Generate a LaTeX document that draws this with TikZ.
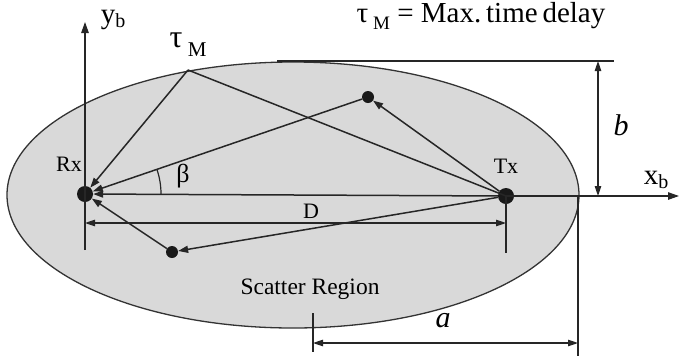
\documentclass[tikz,border=0pt]{standalone}
\usepackage{fontspec}
\setmainfont{Liberation Serif}
\usetikzlibrary{arrows.meta,calc}
\begin{document}
\begin{tikzpicture}[x=1pt,y=-1pt,
  ln/.style={draw=black!85,line width=1.5pt},
  arr/.style={ln,-{Triangle[length=10pt,width=7pt]}},
  dim/.style={ln,line width=1.1pt,{Triangle[length=10pt,width=6.5pt]}-{Triangle[length=10pt,width=6.5pt]}},
  bigdot/.style={circle,fill=black!90,inner sep=0pt,minimum size=16pt},
  smalldot/.style={circle,fill=black!90,inner sep=0pt,minimum size=12pt},
  lbl/.style={inner sep=0pt,font=\fontsize{22}{22}\selectfont},
  ilbl/.style={inner sep=0pt,font=\fontsize{30}{30}\selectfont\itshape}]
\useasboundingbox (0,0) rectangle (680,360);
% ellipse
\path[fill=black!15,draw=black!80,line width=1.3pt] (293,195) ellipse [x radius=286,y radius=133];
% nodes
\node[bigdot] (Rx) at (85,194) {};
\node[bigdot] (Tx) at (506,196) {};
\node[smalldot] (s1) at (368,97) {};
\node[smalldot] (s2) at (172,252) {};
\coordinate (M) at (188,70);
% axes
\coordinate (ybot) at (85,250);
\coordinate (ytop) at (85,22);
\coordinate (xend) at (679,196);
\draw[ln,line width=1.2pt,-{Triangle[length=11pt,width=7.5pt]}] (ybot) -- (ytop);
\draw[ln,line width=1.2pt,-{Triangle[length=11pt,width=7.5pt]}] (Tx.center) -- (xend);
% paths
\draw[arr] (M) -- (Rx);
\draw[ln] (M) -- (Tx.center);
\draw[arr] (Tx) -- (s1);
\draw[arr] (s1) -- (Rx);
\draw[arr] (Tx) -- (s2);
\draw[arr] (s2) -- (Rx);
\draw[arr] (Tx) -- (Rx);
% beta arc
\draw[ln,line width=1.2pt] ($(Rx.center)+(76,0)$) arc[start angle=0,end angle=-19,radius=76];
\node[lbl,font=\fontsize{26}{26}\selectfont] (beta) at (183,176) {β};
% D dimension
\coordinate (Dl) at (85,223);
\coordinate (Dr) at (506,223);
\coordinate (Txb) at (506,253);
\draw[ln,line width=1.2pt] (Tx.center) -- (Txb);
\draw[dim] (Dl) -- (Dr);
\node[lbl] (D) at (311,211) {D};
% b dimension
\coordinate (etop) at (277,61);
\coordinate (btop) at (614,61);
\coordinate (bt) at (598,61);
\coordinate (bb) at (598,196);
\draw[ln,line width=1.2pt] (etop) -- (btop);
\draw[dim] (bt) -- (bb);
\node[ilbl] (b) at (621,125) {b};
% a dimension
\coordinate (al) at (313,343);
\coordinate (ar) at (578,343);
\coordinate (alt) at (313,313);
\coordinate (alb) at (313,352);
\coordinate (art) at (578,196);
\coordinate (arb) at (578,356);
\draw[ln,line width=1.2pt] (alt) -- (alb);
\draw[ln,line width=1.2pt] (art) -- (arb);
\draw[dim] (al) -- (ar);
\node[ilbl] (a) at (443,321) {a};
% labels
\node[lbl] (rxl) at (69,164) {Rx};
\node[lbl] (txl) at (506,166) {Tx};
\node[lbl,font=\fontsize{23.5}{23.5}\selectfont] (scat) at (310,289) {Scatter Region};
\node[lbl,font=\fontsize{29}{29}\selectfont] (yb) at (113,20) {y\raisebox{-4pt}{\fontsize{20}{20}\selectfont b}};
\node[lbl,font=\fontsize{29}{29}\selectfont] (xb) at (656,180) {x\raisebox{-4pt}{\fontsize{20}{20}\selectfont b}};
\node[lbl,font=\fontsize{32}{32}\selectfont] (taum) at (188,45) {τ\,\raisebox{-9pt}{\fontsize{21}{21}\selectfont M}};
\node[lbl,font=\fontsize{29}{29}\selectfont] (title) at (481,16) {τ\,\raisebox{-7pt}{\fontsize{19}{19}\selectfont M} = Max.\,time\,delay};
\end{tikzpicture}
\end{document}
